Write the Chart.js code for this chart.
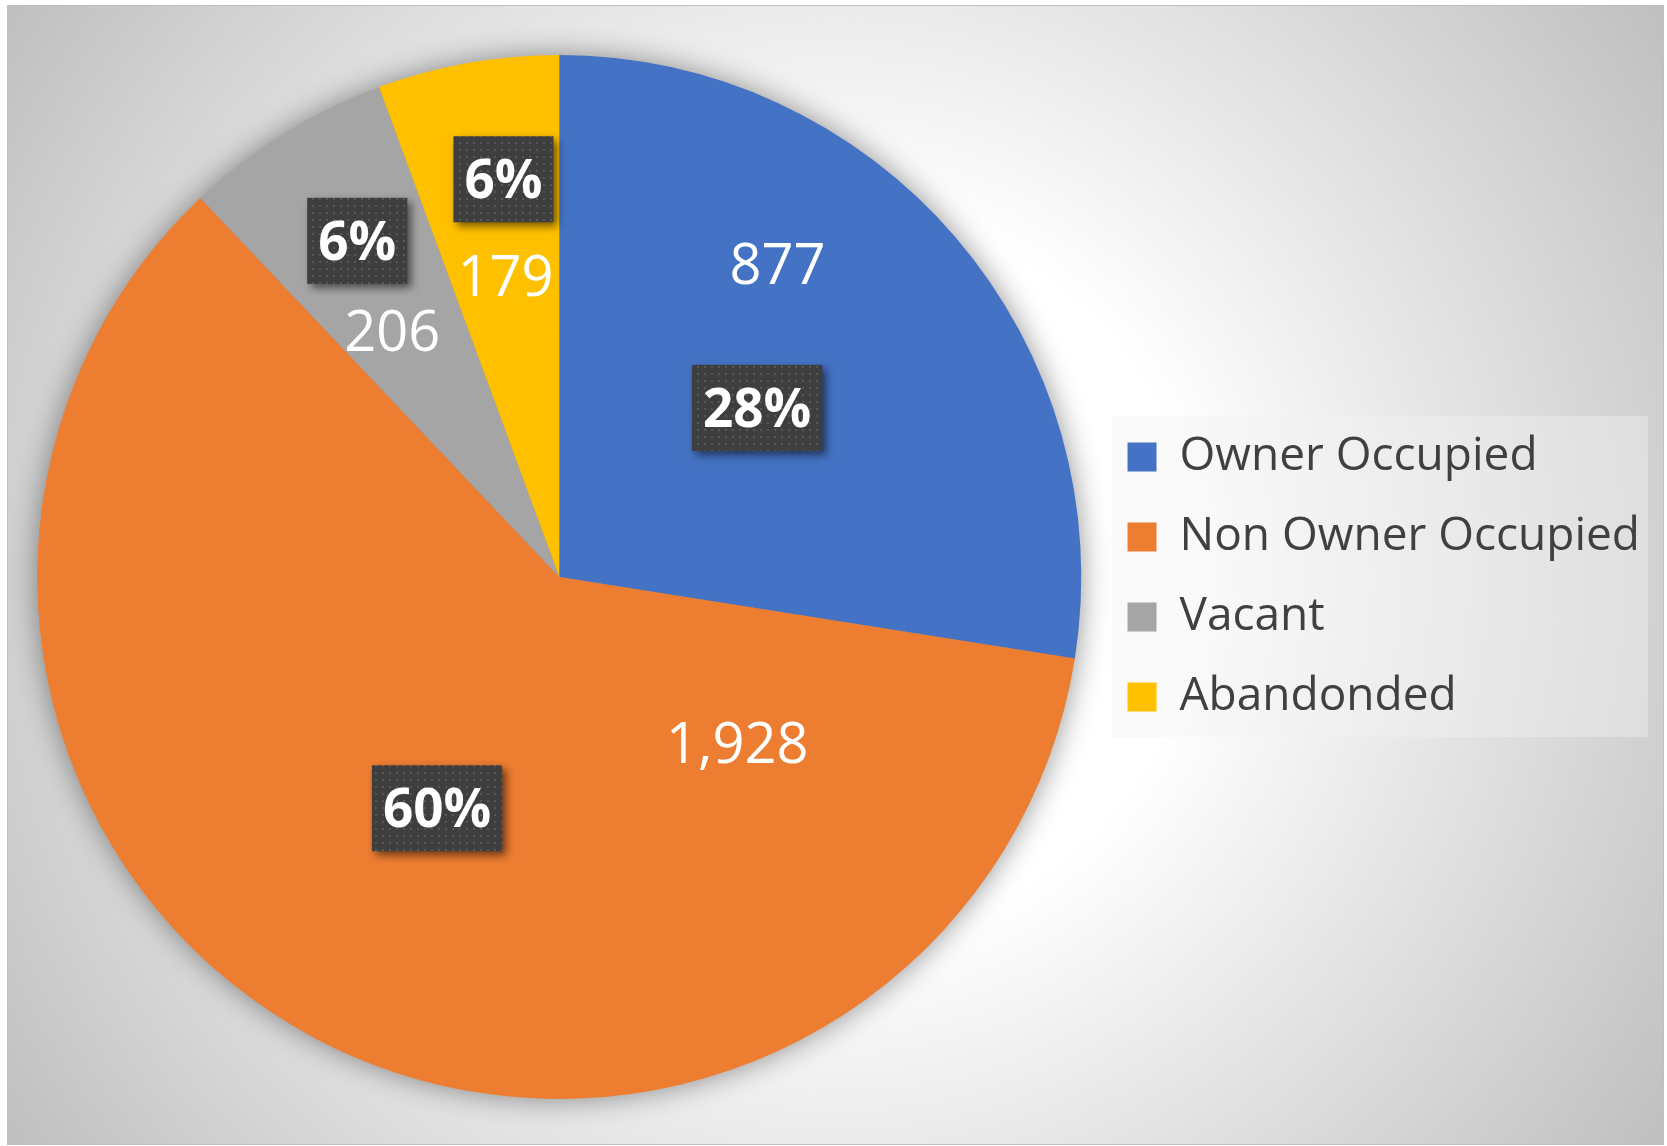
<!DOCTYPE html>
<html>
<head>
<meta charset="utf-8">
<script src="https://cdn.jsdelivr.net/npm/chart.js@4.4.1/dist/chart.umd.min.js"></script>
<style>
  html, body { margin: 0; padding: 0; background: #ffffff; }
  #quadro {
    position: absolute; left: 7px; top: 5px;
    width: 1655px; height: 1138px;
    border: 1px solid #bfbfbf;
    background: radial-gradient(circle farthest-corner at 50% 50%, #ffffff 36%, #bfbfbf 100%);
  }
  canvas { display: block; }
</style>
</head>
<body>
<div id="quadro"><canvas id="grafico" width="1655" height="1138"></canvas></div>
<script>
// Dados
const categorias = ['Owner Occupied', 'Non Owner Occupied', 'Vacant', 'Abandonded'];
const valores = [877, 1928, 206, 179];
const cores = ['#4472C4', '#ED7D31', '#A5A5A5', '#FFC000'];

// Posição dos rótulos (frações do raio, a partir do centro da pizza)
const posValor = [[0.418, -0.600], [0.341, 0.318], [-0.320, -0.471], [-0.103, -0.577]];
const posPercentual = [[0.379, -0.324], [-0.234, 0.443], [-0.387, -0.644], [-0.107, -0.762]];

// Percentuais inteiros que somam 100 (maior resto)
function percentuais(vals) {
  const total = vals.reduce((a, b) => a + b, 0);
  const brutos = vals.map(v => v / total * 100);
  const res = brutos.map(Math.floor);
  const falta = 100 - res.reduce((a, b) => a + b, 0);
  const ordem = brutos.map((b, i) => [b - Math.floor(b), i]).sort((a, b) => b[0] - a[0]);
  for (let k = 0; k < falta; k++) res[ordem[k][1]]++;
  return res;
}

// Padrão pontilhado das caixas de percentual
function criarPadrao(ctx) {
  const tile = document.createElement('canvas');
  tile.width = 7; tile.height = 7;
  const t = tile.getContext('2d');
  t.fillStyle = '#3e3e3e';
  t.fillRect(0, 0, 7, 7);
  t.fillStyle = '#575757';
  t.fillRect(3, 3, 2, 2);
  return ctx.createPattern(tile, 'repeat');
}

// Sombra suave atrás da pizza
const sombraPizza = {
  id: 'sombraPizza',
  beforeDatasetsDraw(chart) {
    const arco = chart.getDatasetMeta(0).data[0];
    if (!arco) return;
    const { x, y, outerRadius } = arco.getProps(['x', 'y', 'outerRadius'], true);
    const ctx = chart.ctx;
    ctx.save();
    ctx.shadowColor = 'rgba(0,0,0,0.45)';
    ctx.shadowBlur = 30;
    ctx.fillStyle = '#8c8c8c';
    ctx.beginPath();
    ctx.arc(x, y, outerRadius - 1, 0, Math.PI * 2);
    ctx.fill();
    ctx.restore();
  }
};

// Fundo da legenda
const fundoLegenda = {
  id: 'fundoLegenda',
  beforeDraw(chart) {
    const caixas = chart.legend && chart.legend.legendHitBoxes;
    if (!caixas || !caixas.length) return;
    const esq = Math.min(...caixas.map(c => c.left)) - 16;
    const dir = Math.max(...caixas.map(c => c.left + c.width)) + 8;
    const topo = Math.min(...caixas.map(c => c.top)) - 18;
    const base = Math.max(...caixas.map(c => c.top + c.height)) + 17;
    const ctx = chart.ctx;
    ctx.save();
    ctx.fillStyle = 'rgba(242,242,242,0.4)';
    ctx.fillRect(esq, topo, dir - esq, base - topo);
    ctx.restore();
  }
};

// Rótulos de valor e percentual
const rotulos = {
  id: 'rotulos',
  afterDatasetsDraw(chart) {
    const ctx = chart.ctx;
    const padrao = criarPadrao(ctx);
    const pct = percentuais(valores);
    chart.getDatasetMeta(0).data.forEach((arco, i) => {
      const { x, y, outerRadius: r } = arco.getProps(['x', 'y', 'outerRadius'], true);
      ctx.save();
      ctx.textAlign = 'center';
      ctx.textBaseline = 'alphabetic';

      // valor
      ctx.font = '56px "Open Sans"';
      ctx.fillStyle = '#ffffff';
      ctx.fillText(valores[i].toLocaleString('en-US'), x + posValor[i][0] * r, y + posValor[i][1] * r + 0.357 * 56);

      // percentual
      const texto = pct[i] + '%';
      ctx.font = 'bold 53px "Open Sans"';
      const larg = ctx.measureText(texto).width + 22;
      const alt = 86;
      const cx = x + posPercentual[i][0] * r;
      const cy = y + posPercentual[i][1] * r;
      ctx.shadowColor = 'rgba(0,0,0,0.55)';
      ctx.shadowBlur = 8;
      ctx.shadowOffsetX = 4;
      ctx.shadowOffsetY = 4;
      ctx.fillStyle = padrao;
      ctx.fillRect(cx - larg / 2, cy - alt / 2, larg, alt);
      ctx.shadowColor = 'transparent';
      ctx.fillStyle = '#ffffff';
      ctx.fillText(texto, cx, cy + 0.357 * 53);
      ctx.restore();
    });
  }
};

new Chart(document.getElementById('grafico'), {
  type: 'pie',
  data: {
    labels: categorias,
    datasets: [{
      data: valores,
      backgroundColor: cores,
      borderWidth: 0,
      hoverOffset: 0
    }]
  },
  options: {
    responsive: false,
    animation: false,
    layout: { padding: { left: 17, top: 49, bottom: 45, right: 13 } },
    plugins: {
      legend: {
        position: 'right',
        labels: {
          boxWidth: 29,
          boxHeight: 29,
          padding: 34,
          color: '#404040',
          font: { family: 'Open Sans', size: 46 }
        }
      },
      tooltip: { enabled: false }
    }
  },
  plugins: [sombraPizza, fundoLegenda, rotulos]
});
</script>
</body>
</html>
